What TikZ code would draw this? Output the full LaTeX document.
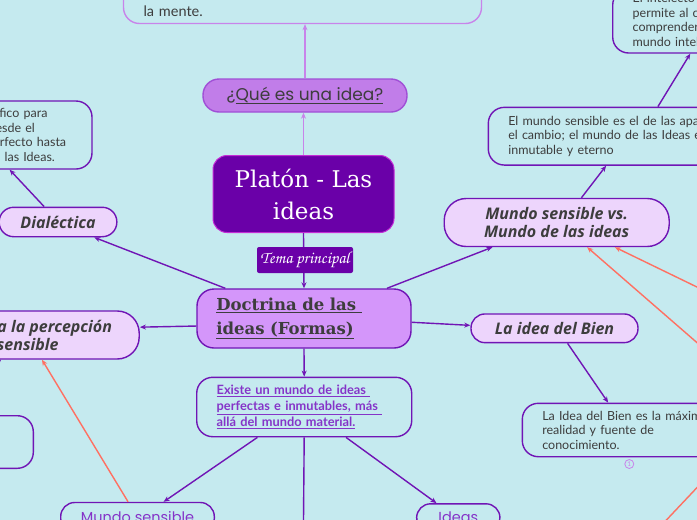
\documentclass[tikz,border=0pt]{standalone}
\usepackage{fontspec}
\setmainfont{Lato}
\newfontfamily\ramafont{Open Sans}
\newfontfamily\quefont{Poppins}
\newfontfamily\slabfont{DejaVu Serif}
\newfontfamily\temafont{texgyrechorus-mediumitalic.otf}
\usetikzlibrary{arrows.meta}

\definecolor{fondo}{HTML}{C5EAEF}
\definecolor{morado}{HTML}{7015B5}
\definecolor{moradooscuro}{HTML}{6A00A8}
\definecolor{bordecentral}{HTML}{C42CD6}
\definecolor{violeta}{HTML}{D496FA}
\definecolor{lila}{HTML}{EDD5FC}
\definecolor{lilamedio}{HTML}{C17DE9}
\definecolor{bordeque}{HTML}{A04FD6}
\definecolor{lilaclaro}{HTML}{C884EA}
\definecolor{salmon}{HTML}{FF7062}
\definecolor{gristexto}{HTML}{3D3D3D}
\definecolor{moradotexto}{HTML}{8534C8}

\begin{document}
\begin{tikzpicture}[x=1pt,y=-1pt,
  >={Stealth[length=6pt,width=5pt]},
  central/.style={draw=bordecentral,line width=1pt,fill=moradooscuro,text=white,
    rounded corners=14pt,minimum width=181pt,minimum height=77pt,align=center,
    font=\slabfont\fontsize{23}{32}\selectfont},
  etiqueta/.style={fill=moradooscuro,text=white,rounded corners=2pt,inner sep=0pt,
    minimum width=96pt,minimum height=26pt,font=\temafont\fontsize{17}{17}\selectfont},
  subtema/.style={draw=morado,line width=1.4pt,fill=violeta,text=gristexto,
    rounded corners=17pt,minimum width=214pt,minimum height=59pt,align=left,
    inner xsep=19.3pt,text width=175.4pt,
    font=\slabfont\bfseries\fontsize{16.5}{24}\selectfont},
  pregunta/.style={draw=bordeque,line width=1.4pt,fill=lilamedio,text=gristexto,
    rounded corners=16pt,minimum width=204pt,minimum height=33pt,
    font=\quefont\fontsize{17}{18}\selectfont},
  rama/.style={draw=morado,line width=1.4pt,fill=lila,text=gristexto,inner sep=0pt,
    align=center,font=\ramafont\bfseries\itshape\fontsize{16}{18}\selectfont},
  caja/.style={draw=morado,line width=1.4pt,fill=fondo,text=gristexto,
    rounded corners=16pt,inner xsep=20pt,inner ysep=0pt,align=left,
    font=\fontsize{12.5}{14.5}\selectfont},
  hoja/.style={draw=morado,line width=1.4pt,fill=fondo,text=moradotexto,
    rounded corners=14pt,inner sep=0pt,font=\quefont\fontsize{14.5}{18}\selectfont},
  enlace/.style={->,morado,line width=1.4pt},
  enlaceclaro/.style={->,lilaclaro,line width=1.4pt},
  relacion/.style={->,salmon,line width=1.4pt}]

%% Fondo y recorte
\useasboundingbox (0,0) rectangle (697,520);
\fill[fondo] (0,0) rectangle (697,520);
\clip (0,0) rectangle (697,520);

%% Tema central y subtemas
\node[central] (platon) at (303.5,194) {Platón - Las\\ideas};
\node[pregunta] (que) at (305,95.5) {¿\underline{Qué es una idea?}};
\node[caja,draw=lilaclaro,text width=318pt,inner ysep=4pt,text height=60pt,
  text depth=3pt,anchor=base,font=\fontsize{14.5}{18}\selectfont] (mente) at (302.5,16.5) {la mente.};
\node[subtema] (doctrina) at (304,318.5) {\underline{Doctrina de las }\\\underline{ideas (Formas)}};

%% Ramas
\node[rama,minimum width=117.7pt,minimum height=29.4pt,rounded corners=14.5pt] (dialectica) at (58,222) {Dialéctica};
\node[rama,minimum width=223pt,minimum height=48pt,rounded corners=22pt] (critica) at (27.7,335) {Crítica a la percepción\\sensible};
\node[rama,minimum width=225pt,minimum height=48pt,rounded corners=22pt] (mundos) at (556.7,222.5) {Mundo sensible vs.\\Mundo de las ideas};
\node[rama,minimum width=167pt,minimum height=28.7pt,rounded corners=14pt] (bien) at (554.5,328.3) {La idea del Bien};

%% Cajas de texto
\node[caja,text width=150pt,minimum height=68pt,anchor=east] (metodo) at (92.7,135)
  {Método filosófico para\\remontarse desde el\\universo imperfecto hasta\\la intuición de las Ideas.};
\node[caja,text width=170pt,minimum height=64pt] (intelecto) at (717.7,21)
  {El intelecto (razón)\\permite al conocimiento\\comprender el\\mundo inteligible.};
\node[caja,text width=280pt,minimum height=57.7pt] (apariencia) at (648.3,136.2)
  {El mundo sensible es el de las apariencias y\\el cambio; el mundo de las Ideas es\\inmutable y eterno};
\node[caja,text width=210pt,minimum height=53.4pt] (maxima) at (647.3,430)
  {La Idea del Bien es la máxima\\realidad y fuente de\\conocimiento.};
\node[caja,text=moradotexto,font=\bfseries\fontsize{12.8}{16}\selectfont,
  text width=175pt,minimum height=59.4pt] (existe) at (304.2,407)
  {\underline{Existe un mundo de ideas }\\\underline{perfectas e inmutables, más }\\\underline{allá del mundo material.}};
\node[caja,minimum width=113pt,minimum height=52.6pt,inner sep=0pt] (recuadro) at (-23.2,442) {};

%% Hojas inferiores
\node[hoja,minimum width=153.6pt,minimum height=30pt] (sensible) at (137.5,517.5) {Mundo sensible};
\node[hoja,minimum width=83.3pt,minimum height=27pt] (ideas) at (458.3,517.3) {Ideas};
\node[circle,draw=lilaclaro,line width=0.8pt,text=lilaclaro,inner sep=0pt,minimum size=9pt,
  font=\fontsize{6.5}{6.5}\selectfont] (nota) at (629.3,464) {1};

%% Extremos fuera del recorte
\coordinate (abajo) at (303,580);
\coordinate (relA) at (760,397.4);
\coordinate (relB) at (760,317.6);
\coordinate (relC) at (740,442);
\coordinate (relD) at (640,548);

%% Conectores
\draw[enlaceclaro] (que.north) -- (que.north |- mente.south);
\draw[enlaceclaro] (platon.north) -- (platon.north |- que.south);
\draw[enlace] (platon.south) -- (doctrina.north);
\node[etiqueta] (tema) at (305,260) {Tema principal};

\draw[enlace] (doctrina.159) -- (dialectica.-23);
\draw[enlace] (dialectica.132) -- (metodo.-70);
\draw[enlace] (doctrina.184) -- (critica.4);
\draw[enlace] (critica.-138) -- (recuadro.north);
\draw[enlace] (doctrina.20) -- (mundos.201);
\draw[enlace] (mundos.45) -- (apariencia.-145);
\draw[enlace] (apariencia.72) -- (intelecto.-130);
\draw[enlace] (doctrina.-2) -- (bien.178);
\draw[enlace] (bien.-49) -- (maxima.145);
\draw[enlace] (doctrina.south) -- (existe.north);
\draw[enlace] (existe.213) -- (sensible.31);
\draw[enlace] (existe.-36) -- (ideas.147);
\draw[enlace,-] (existe.south) -- (abajo);

%% Relaciones
\draw[relacion] (sensible.121) -- (critica.-60);
\draw[relacion] (relA) -- (mundos.-39);
\draw[relacion] (relB) -- (mundos.-23);
\draw[relacion,-] (relC) -- (relD);

\end{tikzpicture}
\end{document}
